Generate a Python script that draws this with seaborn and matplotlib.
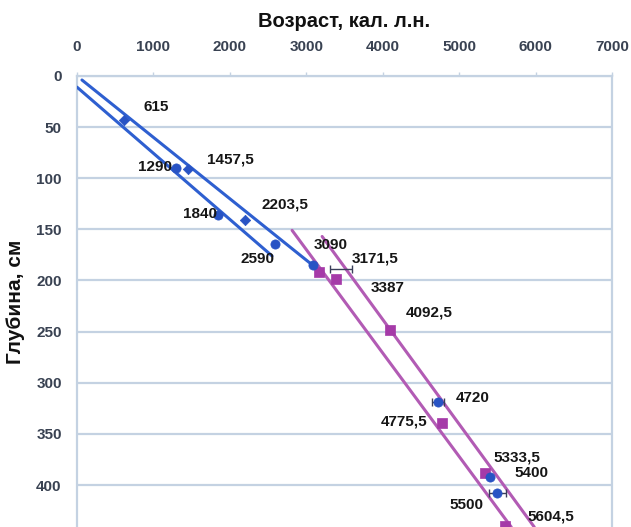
import matplotlib
matplotlib.use("Agg")
import matplotlib.pyplot as plt
import seaborn as sns
import pandas as pd

# Radiocarbon-calibrated ages (cal. yr BP) and sample depths (cm)
blue_diamond_age = [615, 1457.5, 2203.5]
blue_diamond_depth = [43, 91, 141]
blue_circle_age = [1290, 1840, 2590, 3090, 4720, 5400, 5500]
blue_circle_depth = [90, 136, 164, 185, 319, 392, 408]
magenta_age = [3171.5, 3387, 4092.5, 4775.5, 5333.5, 5604.5]
magenta_depth = [192, 199, 248, 339, 388, 440]

# Age uncertainty ranges shown as horizontal bars
err_age = [3455, 4720, 5500]
err_depth = [189, 319, 408]
err_half = [145, 80, 110]

# Age-depth model envelopes (two bounding lines per core section)
blue_upper_age = [65, 3115]
blue_upper_depth = [4, 187]
blue_lower_age = [0, 2552]
blue_lower_depth = [11, 176]
mag_left_age = [2814, 5681]
mag_left_depth = [151, 441]
mag_right_age = [3207, 5982]
mag_right_depth = [157, 441]

x_ticks = [0, 1000, 2000, 3000, 4000, 5000, 6000, 7000]
y_ticks = [0, 50, 100, 150, 200, 250, 300, 350, 400]

BLUE = "#2853c4"
BLUE_LINE = "#2e5fd0"
MAGENTA = "#a53aa8"
MAG_LINE = "#b25bb4"
GRID = "#c4d2e2"
TICK_TXT = "#394252"

sns.set_theme(style="white")
plt.rcParams["font.family"] = ["Liberation Sans", "DejaVu Sans"]

fig = plt.figure(figsize=(6.31, 5.27), dpi=100)
ax = fig.add_axes([0.122, 0.0, 0.848, 0.856])

lines = pd.DataFrame({
    "age": blue_upper_age + blue_lower_age + mag_left_age + mag_right_age,
    "depth": blue_upper_depth + blue_lower_depth + mag_left_depth + mag_right_depth,
    "line": ["bu"] * 2 + ["bl"] * 2 + ["ml"] * 2 + ["mr"] * 2,
})
sns.lineplot(data=lines, x="age", y="depth", hue="line", units="line",
             estimator=None, sort=False, ax=ax, legend=False,
             palette={"bu": BLUE_LINE, "bl": BLUE_LINE, "ml": MAG_LINE, "mr": MAG_LINE},
             linewidth=2.2, zorder=3)

ax.errorbar(err_age, err_depth, xerr=err_half, fmt="none", ecolor="#3a3f5a",
            elinewidth=1.0, capsize=3, capthick=1.0, zorder=4)

pts_m = pd.DataFrame({"age": magenta_age, "depth": magenta_depth})
sns.scatterplot(data=pts_m, x="age", y="depth", marker="s", s=42, color=MAGENTA,
                edgecolor=MAGENTA, linewidth=0.5, ax=ax, zorder=5)
pts_d = pd.DataFrame({"age": blue_diamond_age, "depth": blue_diamond_depth})
sns.scatterplot(data=pts_d, x="age", y="depth", marker="D", s=28, color=BLUE,
                edgecolor=BLUE, linewidth=0.5, ax=ax, zorder=6)
pts_c = pd.DataFrame({"age": blue_circle_age, "depth": blue_circle_depth})
sns.scatterplot(data=pts_c, x="age", y="depth", marker="o", s=44, color=BLUE,
                edgecolor=BLUE, linewidth=0.5, ax=ax, zorder=6)

def fmt(v):
    return (f"{v:.1f}".replace(".", ",")) if v % 1 else f"{int(v)}"

# label placement: (dx px, dy px, horizontal alignment)
label_place = {
    615: (32, -13, "center"), 1290: (-4, -1, "right"), 1457.5: (19, -9, "left"),
    1840: (-1, -1, "right"), 2203.5: (16, -16, "left"), 2590: (0, 15, "right"),
    3090: (1, -20, "left"), 3171.5: (32, -14, "left"), 3387: (35, 9, "left"),
    4092.5: (16, -17, "left"), 4720: (18, -4, "left"), 4775.5: (-15, -1, "right"),
    5333.5: (9, -15, "left"), 5400: (25, -4, "left"), 5500: (-14, 12, "right"),
    5604.5: (22, -9, "left"),
}
all_pts = list(zip(blue_diamond_age, blue_diamond_depth)) + \
    list(zip(blue_circle_age, blue_circle_depth)) + list(zip(magenta_age, magenta_depth))
for a, d in all_pts:
    dx, dy, ha = label_place[a]
    ax.annotate(fmt(a), (a, d), xytext=(dx * 0.72, -dy * 0.72), textcoords="offset points",
                ha=ha, va="center", fontsize=11, fontweight="bold", color="#161616",
                zorder=8, annotation_clip=False)

ax.set_xlim(0, 7000)
ax.set_ylim(441, 0)
ax.set_xticks(x_ticks)
ax.set_yticks(y_ticks)
ax.xaxis.tick_top()
ax.xaxis.set_label_position("top")
ax.set_xlabel("Возраст, кал. л.н.", fontsize=14.5, fontweight="bold", labelpad=9, color="#111111")
ax.set_ylabel("Глубина, см", fontsize=15, fontweight="bold", labelpad=8, color="#111111")
ax.tick_params(axis="x", which="major", length=3, width=1.0, color=GRID, pad=13,
               labelsize=11, labelcolor=TICK_TXT)
ax.tick_params(axis="y", which="major", length=7, width=1.5, color=GRID, pad=4,
               labelsize=11, labelcolor=TICK_TXT)
for t in ax.get_xticklabels() + ax.get_yticklabels():
    t.set_fontweight("bold")

ax.yaxis.grid(True, color=GRID, linewidth=1.6)
ax.xaxis.grid(False)
for side in ("left", "top", "right"):
    ax.spines[side].set_color(GRID)
    ax.spines[side].set_linewidth(1.6)
ax.spines["bottom"].set_visible(False)

fig.savefig("out.png", dpi=100)
